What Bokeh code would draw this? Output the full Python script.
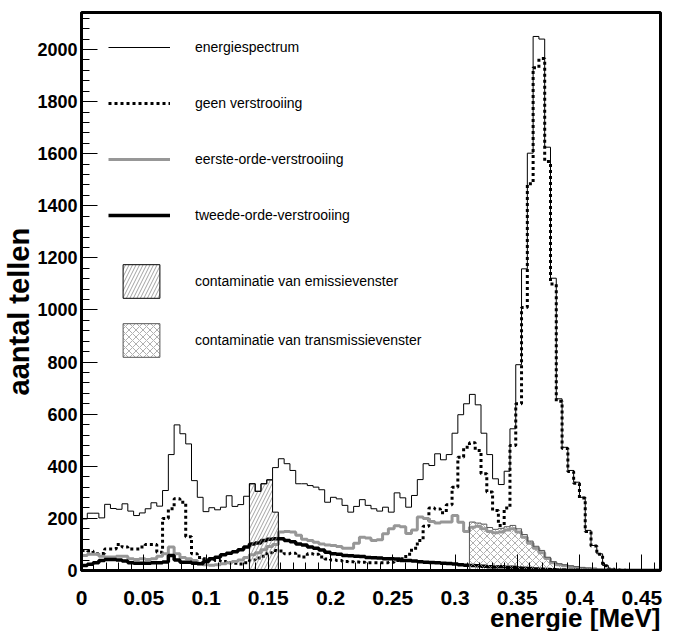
import numpy as np
from bokeh.plotting import figure
from bokeh.models import Legend, LegendItem, SingleIntervalTicker, FixedTicker, Title
from bokeh.embed import file_html
from bokeh.resources import INLINE

# Histogram binning: 100 bins between 0 and 0.465 MeV
E_MIN, E_MAX, N_BINS = 0.0, 0.465, 100

energiespectrum = [
    198, 220, 220, 202, 254, 238, 235, 256, 228, 211,
    221, 237, 260, 247, 307, 445, 559, 525, 486, 345,
    281, 226, 241, 233, 243, 287, 246, 253, 285, 333,
    304, 333, 348, 395, 429, 410, 384, 333, 333, 326,
    320, 310, 262, 281, 275, 250, 224, 246, 272, 250,
    237, 228, 243, 224, 298, 279, 243, 288, 349, 410,
    403, 448, 425, 445, 527, 598, 640, 676, 636, 527,
    445, 352, 330, 381, 544, 790, 1158, 1602, 2050, 2040,
    1625, 1122, 659, 473, 384, 339, 281, 154, 96, 64,
    19, 6, 3, 1, 0, 0, 0, 0, 0, 0,
]

geen_verstrooiing = [
    77, 75, 64, 65, 83, 83, 100, 90, 83, 83,
    90, 100, 100, 70, 200, 237, 275, 262, 130, 64,
    50, 45, 42, 38, 35, 30, 28, 25, 30, 40,
    48, 55, 68, 77, 75, 64, 66, 56, 52, 64,
    62, 52, 44, 40, 38, 35, 34, 33, 32, 30,
    30, 30, 30, 32, 38, 45, 62, 85, 115, 170,
    240, 236, 222, 252, 320, 435, 473, 490, 461, 371,
    301, 230, 173, 240, 480, 640, 1010, 1485, 1930, 1965,
    1570, 1100, 650, 468, 380, 335, 278, 150, 94, 62,
    18, 6, 2, 1, 0, 0, 0, 0, 0, 0,
]

eerste_orde = [
    58, 62, 62, 55, 52, 52, 55, 55, 45, 42,
    45, 42, 45, 55, 64, 90, 64, 50, 45, 38,
    28, 22, 20, 22, 26, 30, 35, 40, 50, 60,
    68, 80, 92, 100, 148, 150, 148, 135, 120, 115,
    108, 102, 98, 96, 92, 85, 85, 105, 128, 125,
    115, 118, 141, 160, 172, 168, 142, 155, 205, 200,
    188, 182, 186, 186, 211, 185, 150, 166, 170, 160,
    150, 145, 148, 155, 160, 148, 128, 105, 85, 68,
    46, 30, 22, 18, 14, 11, 8, 6, 5, 3,
    2, 1, 0, 0, 0, 0, 0, 0, 0, 0,
]

tweede_orde = [
    19, 24, 30, 38, 42, 42, 40, 36, 30, 28,
    28, 28, 30, 30, 33, 58, 40, 32, 32, 28,
    26, 35, 45, 51, 60, 66, 72, 80, 90, 102,
    106, 115, 120, 122, 122, 115, 110, 102, 98, 90,
    85, 79, 70, 64, 62, 58, 57, 55, 54, 50,
    49, 48, 45, 45, 44, 38, 38, 36, 34, 32,
    31, 30, 28, 27, 25, 22, 20, 19, 18, 16,
    14, 13, 14, 12, 12, 10, 9, 8, 6, 5,
    4, 3, 2, 2, 1, 1, 0, 0, 0, 0,
    0, 0, 0, 0, 0, 0, 0, 0, 0, 0,
]

# Window contaminations: first bin index and the bin contents inside the window
emissie_first_bin = 29
emissie_contaminatie = [333, 304, 333, 348, 224]
transmissie_first_bin = 67
transmissie_contaminatie = [
    186, 182, 178, 165, 158, 162, 168, 173, 160, 138, 113,
    93, 77, 51, 34, 26, 22, 18, 15, 12, 10, 9,
]

x_tick_labels = ["0", "0.05", "0.1", "0.15", "0.2", "0.25", "0.3", "0.35", "0.4", "0.45"]

labels = {
    "spec": "energiespectrum",
    "geen": "geen verstrooiing",
    "eerste": "eerste-orde-verstrooiing",
    "tweede": "tweede-orde-verstrooiing",
    "emissie": "contaminatie van emissievenster",
    "transmissie": "contaminatie van transmissievenster",
}
x_title = "energie [MeV]"
y_title = "aantal tellen"

FONT = "Liberation Sans"
GREY = "#979797"

edges = np.linspace(E_MIN, E_MAX, N_BINS + 1)

p = figure(
    width=677, height=631,
    x_range=(E_MIN, E_MAX), y_range=(0, 2142),
    output_backend="svg", toolbar_location=None,
    min_border_left=79, min_border_right=17, min_border_top=12, min_border_bottom=61,
)
p.grid.visible = False
p.outline_line_color = "black"
p.outline_line_width = 3
p.background_fill_color = "white"
p.border_fill_color = "white"


def hist_step(values, **kw):
    """Histogram outline drawn as a step line over the bin edges."""
    return p.step(x=edges, y=list(values) + [0], mode="after", **kw)


def window_patch(first_bin, values, **kw):
    """Filled (hatched) histogram restricted to an energy window."""
    n = len(values)
    lo = edges[first_bin:first_bin + n]
    hi = edges[first_bin + 1:first_bin + n + 1]
    xs, ys = [lo[0]], [0]
    for l, h, v in zip(lo, hi, values):
        xs += [l, h]
        ys += [v, v]
    xs.append(hi[-1])
    ys.append(0)
    return p.patch(xs, ys, **kw)


r_spec = hist_step(energiespectrum, line_color="black", line_width=1)
r_geen = hist_step(geen_verstrooiing, line_color="black", line_width=3, line_dash="3 3")
r_eerste = hist_step(eerste_orde, line_color=GREY, line_width=3)
r_tweede = hist_step(tweede_orde, line_color="black", line_width=3.5)

r_emissie = window_patch(
    emissie_first_bin, emissie_contaminatie,
    fill_color=None, hatch_pattern="/", hatch_color="#8a8a8a",
    hatch_scale=7, hatch_weight=0.8, line_color="black", line_width=1,
)
r_transmissie = window_patch(
    transmissie_first_bin, transmissie_contaminatie,
    fill_color=None, hatch_pattern="x", hatch_color="#9a9a9a",
    hatch_scale=7, hatch_weight=0.8, line_color="#555555", line_width=1,
)

# Axes
x_ticks = [float(s) for s in x_tick_labels]
p.xaxis.ticker = FixedTicker(ticks=x_ticks, minor_ticks=list(np.arange(0, E_MAX + 1e-9, 0.01)))
p.xaxis.major_label_overrides = {t: s for t, s in zip(x_ticks, x_tick_labels)}
p.yaxis.ticker = SingleIntervalTicker(interval=200, num_minor_ticks=5)

for ax in (p.xaxis, p.yaxis):
    ax.axis_line_width = 3
    ax.axis_line_color = "black"
    ax.major_tick_in = 16
    ax.major_tick_out = 0
    ax.minor_tick_in = 8
    ax.minor_tick_out = 0
    ax.major_tick_line_color = "black"
    ax.minor_tick_line_color = "black"
    ax.major_label_text_font = FONT
    ax.major_label_text_font_style = "bold"
    ax.major_label_text_color = "black"

p.yaxis.major_label_text_font_size = "18px"
p.yaxis.major_label_standoff = 4

p.xaxis.major_label_text_font_size = "21px"
p.xaxis.major_label_standoff = 20

title_style = dict(text_font=FONT, text_font_style="bold", text_color="black")

# Axis titles, each in its own side panel
p.add_layout(Title(
    text=x_title, align="right", standoff=-14, text_font_size="26px", **title_style,
), "below")
p.add_layout(Title(
    text=y_title, align="left", offset=175, standoff=0, text_font_size="29px", **title_style,
), "left")

# Legends
common = dict(
    padding=0, margin=0, border_line_alpha=0, background_fill_alpha=0,
    label_text_font=FONT, label_text_font_size="14px", label_text_color="black",
    glyph_height=42,
)
leg_lines = Legend(
    items=[
        LegendItem(label=labels["spec"], renderers=[r_spec]),
        LegendItem(label=labels["geen"], renderers=[r_geen]),
        LegendItem(label=labels["eerste"], renderers=[r_eerste]),
        LegendItem(label=labels["tweede"], renderers=[r_tweede]),
    ],
    location=(27, 334), glyph_width=62, spacing=14, label_standoff=25, **common,
)
leg_windows = Legend(
    items=[
        LegendItem(label=labels["emissie"], renderers=[r_emissie]),
        LegendItem(label=labels["transmissie"], renderers=[r_transmissie]),
    ],
    location=(37, 209), glyph_width=46, spacing=17, label_standoff=31, **common,
)
p.add_layout(leg_lines)
p.add_layout(leg_windows)

open("out.html", "w").write(file_html(p, INLINE))
